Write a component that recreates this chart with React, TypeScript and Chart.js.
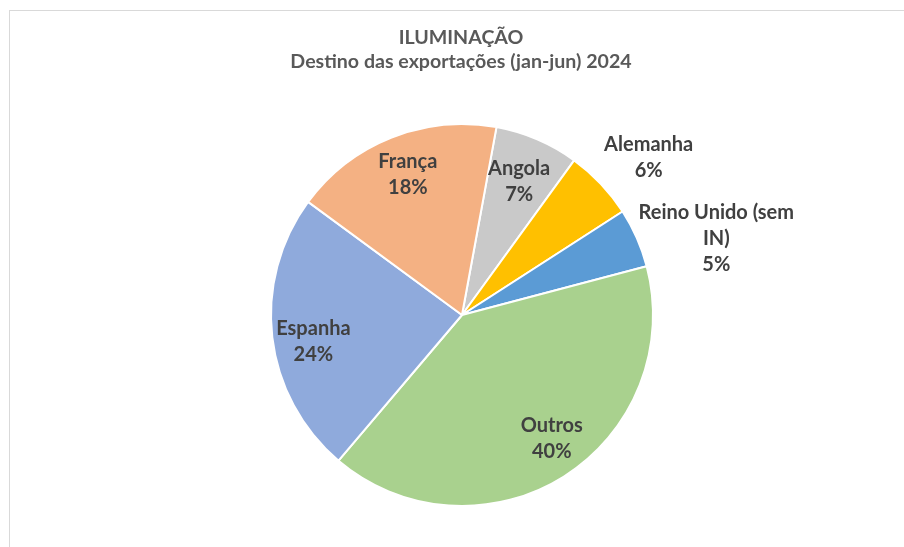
import React, { useEffect, useRef } from "react";
import { Chart, registerables } from "chart.js";

Chart.register(...registerables);

const titleLines = ["ILUMINAÇÃO", "Destino das exportações (jan-jun) 2024"];
const categories = ["Angola", "Alemanha", "Reino Unido (sem IN)", "Outros", "Espanha", "França"];
const labelLines = [["Angola"], ["Alemanha"], ["Reino Unido (sem", "IN)"], ["Outros"], ["Espanha"], ["França"]];
const shares = [7.1, 5.9, 5.0, 40.3, 23.9, 17.8];
const colors = ["#C9C9C9", "#FFC000", "#5B9BD5", "#A9D18E", "#8FAADC", "#F4B183"];

// label placement: radius factor and angle tweak (degrees)
const labelRadius = [0.76, 1.28, 1.39, 0.8, 0.79, 0.79];
const labelAngleTweak = [0, 3.2, 7.1, -3.7, -3.3, 0.6];

const FONT = "Lato, 'Open Sans', sans-serif";
const LABEL_SIZE = 20;
const TITLE_SIZE = 19.6;

const labelPlugin = {
  id: "customLabels",
  afterDatasetsDraw(chart: any) {
    const ctx = chart.ctx;
    const meta = chart.getDatasetMeta(0);
    ctx.save();
    ctx.textAlign = "center";
    ctx.textBaseline = "middle";
    ctx.font = `bold ${LABEL_SIZE}px ${FONT}`;
    ctx.fillStyle = "#404040";
    meta.data.forEach((arc: any, i: number) => {
      const mid = (arc.startAngle + arc.endAngle) / 2 + (labelAngleTweak[i] * Math.PI) / 180;
      const r = arc.outerRadius * labelRadius[i];
      const cx = arc.x + Math.cos(mid) * r;
      const cy = arc.y + Math.sin(mid) * r;
      const lines = [...labelLines[i], `${Math.round(shares[i])}%`];
      const lh = 26;
      const startY = cy - ((lines.length - 1) * lh) / 2;
      lines.forEach((t, j) => ctx.fillText(t, cx, startY + j * lh));
    });
    // title
    ctx.fillStyle = "#595959";
    ctx.font = `bold ${TITLE_SIZE}px ${FONT}`;
    titleLines.forEach((t, j) => ctx.fillText(t, 461, 38 + j * 24));
    ctx.restore();
  },
};

export default function App() {
  const ref = useRef<HTMLCanvasElement>(null);
  useEffect(() => {
    if (!ref.current) return;
    const chart = new Chart(ref.current, {
      type: "pie",
      data: {
        labels: categories,
        datasets: [
          {
            data: shares,
            backgroundColor: colors,
            borderColor: "#FFFFFF",
            borderWidth: 2,
            hoverOffset: 0,
            offset: 0,
          },
        ],
      },
      options: {
        responsive: false,
        animation: false,
        rotation: 10.4,
        layout: { padding: { left: 270, right: 250, top: 123, bottom: 40 } },
        plugins: {
          legend: { display: false },
          title: { display: false },
          tooltip: { enabled: false },
        },
      },
      plugins: [labelPlugin],
    });
    return () => chart.destroy();
  }, []);
  return (
    <div style={{ position: "fixed", left: 0, top: 0, width: 904, height: 547, background: "#fff", overflow: "hidden" }}>
      <div
        style={{
          position: "absolute",
          left: 9,
          top: 10,
          width: 1000,
          height: 1000,
          border: "1px solid #D9D9D9",
        }}
      />
      <canvas ref={ref} width={904} height={547} style={{ position: "absolute", left: 0, top: 0 }} />
    </div>
  );
}
